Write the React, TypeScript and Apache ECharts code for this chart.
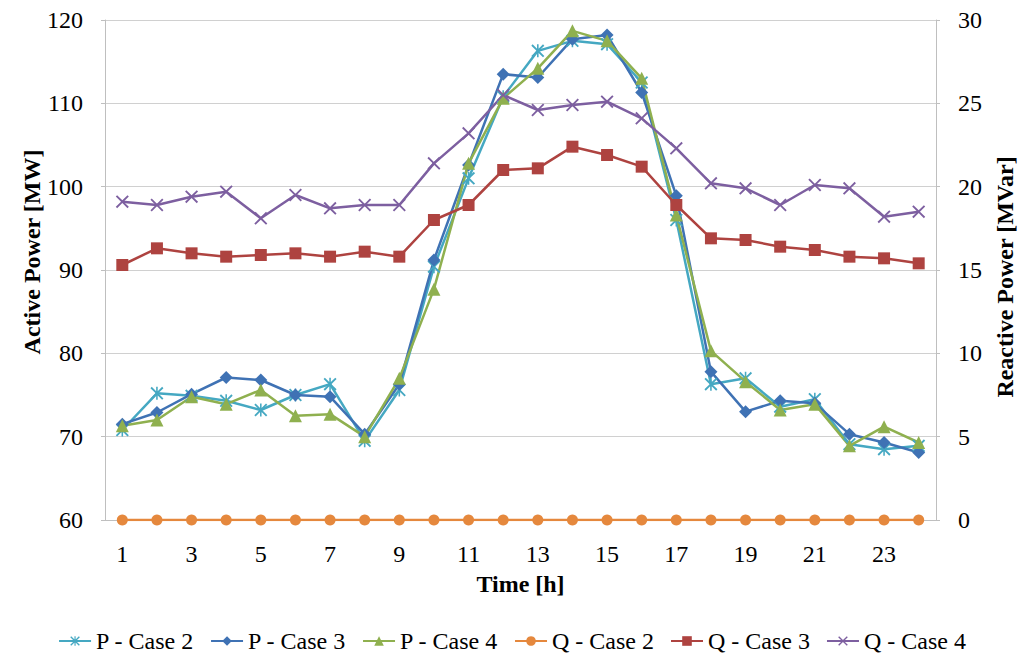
import React, { useEffect, useRef } from "react";
import * as echarts from "echarts";

const hours = ["1","2","3","4","5","6","7","8","9","10","11","12","13","14","15","16","17","18","19","20","21","22","23","24"];
const pCase2 = [70.8, 75.2, 74.9, 74.3, 73.2, 75.0, 76.3, 69.5, 75.6, 90.4, 101.0, 110.8, 116.3, 117.5, 117.1, 112.5, 96.0, 76.3, 77.0, 73.6, 74.5, 69.1, 68.5, 68.9];
const pCase3 = [71.5, 72.9, 75.1, 77.1, 76.8, 75.0, 74.8, 70.3, 76.3, 91.2, 102.6, 113.5, 113.1, 117.7, 118.2, 111.3, 98.9, 77.8, 73.0, 74.3, 74.0, 70.3, 69.3, 68.1];
const pCase4 = [71.3, 72.0, 74.8, 73.9, 75.6, 72.5, 72.7, 70.0, 77.0, 87.7, 102.8, 110.6, 114.2, 118.7, 117.5, 113.0, 96.6, 80.3, 76.6, 73.2, 73.9, 68.9, 71.2, 69.3];
const qCase2 = [0, 0, 0, 0, 0, 0, 0, 0, 0, 0, 0, 0, 0, 0, 0, 0, 0, 0, 0, 0, 0, 0, 0, 0];
const qCase3 = [15.3, 16.3, 16.0, 15.8, 15.9, 16.0, 15.8, 16.1, 15.8, 18.0, 18.9, 21.0, 21.1, 22.4, 21.9, 21.2, 18.9, 16.9, 16.8, 16.4, 16.2, 15.8, 15.7, 15.4];
const qCase4 = [19.1, 18.9, 19.4, 19.7, 18.1, 19.5, 18.7, 18.9, 18.9, 21.4, 23.2, 25.5, 24.6, 24.9, 25.1, 24.1, 22.3, 20.2, 19.9, 18.9, 20.1, 19.9, 18.2, 18.5];

const FONT = "Liberation Serif";
const X_SYMBOL = "path://M0,1 L1,0 L5,4 L9,0 L10,1 L6,5 L10,9 L9,10 L5,6 L1,10 L0,9 L4,5 Z";
const STAR_SYMBOL = "path://M0,1 L1,0 L5,4 L9,0 L10,1 L6,5 L10,9 L9,10 L5,6 L1,10 L0,9 L4,5 Z M4.4,0 L5.6,0 L5.6,10 L4.4,10 Z";

export default function App() {
  const ref = useRef<HTMLDivElement>(null);
  useEffect(() => {
    if (!ref.current) return;
    const chart = echarts.init(ref.current, null, { renderer: "svg" });
    const mk = (name: string, data: number[], color: string, symbol: string, size: number, yAxisIndex: number) => ({
      name,
      type: "line",
      data,
      yAxisIndex,
      symbol,
      symbolSize: size,
      showSymbol: true,
      lineStyle: { color, width: 2.5 },
      itemStyle: { color, borderColor: color, borderWidth: 0 },
    });
    chart.setOption({
      animation: false,
      backgroundColor: "#ffffff",
      textStyle: { fontFamily: FONT },
      grid: { left: 105, right: 88, top: 20, bottom: 138 },
      legend: {
        top: 624,
        left: "center",
        itemWidth: 32,
        itemHeight: 12,
        itemGap: 16,
        textStyle: { fontFamily: FONT, fontSize: 24, color: "#000" },
        data: ["P - Case 2", "P - Case 3", "P - Case 4", "Q - Case 2", "Q - Case 3", "Q - Case 4"],
      },
      xAxis: {
        type: "category",
        data: hours,
        boundaryGap: true,
        name: "Time [h]",
        nameLocation: "middle",
        nameGap: 52,
        nameTextStyle: { fontFamily: FONT, fontSize: 24, fontWeight: "bold", color: "#000" },
        axisLine: { lineStyle: { color: "#bfbfbf", width: 1 } },
        axisTick: { show: false },
        axisLabel: { interval: 1, margin: 22, fontFamily: FONT, fontSize: 24, color: "#000" },
      },
      yAxis: [
        {
          type: "value",
          min: 60,
          max: 120,
          interval: 10,
          position: "left",
          axisLine: { show: true, lineStyle: { color: "#bfbfbf" } },
          axisTick: { show: true, length: 4, lineStyle: { color: "#bfbfbf" } },
          splitLine: { show: true, lineStyle: { color: "#d0d0d0", width: 1.2 } },
          axisLabel: { margin: 22, fontFamily: FONT, fontSize: 24, color: "#000" },
        },
        {
          type: "value",
          min: 0,
          max: 30,
          interval: 5,
          position: "right",
          axisLine: { show: true, lineStyle: { color: "#bfbfbf" } },
          axisTick: { show: true, length: 4, lineStyle: { color: "#bfbfbf" } },
          splitLine: { show: false },
          axisLabel: { margin: 22, fontFamily: FONT, fontSize: 24, color: "#000" },
        },
      ],
      graphic: [
        {
          type: "text",
          x: 32,
          y: 252,
          rotation: Math.PI / 2,
          style: {
            text: "Active Power [MW]",
            fontFamily: FONT,
            fontSize: 24,
            fontWeight: "bold",
            fill: "#000",
            align: "center",
            verticalAlign: "middle",
          },
        },
        {
          type: "text",
          x: 1005,
          y: 277,
          rotation: Math.PI / 2,
          style: {
            text: "Reactive Power [MVar]",
            fontFamily: FONT,
            fontSize: 24,
            fontWeight: "bold",
            fill: "#000",
            align: "center",
            verticalAlign: "middle",
          },
        },
      ],
      series: [
        mk("P - Case 2", pCase2, "#45a8c2", STAR_SYMBOL, 13, 0),
        mk("P - Case 3", pCase3, "#3f72b4", "diamond", 13, 0),
        mk("P - Case 4", pCase4, "#8fb04f", "triangle", 13, 0),
        mk("Q - Case 2", qCase2, "#e5883d", "circle", 11, 1),
        mk("Q - Case 3", qCase3, "#ae4340", "rect", 12, 1),
        mk("Q - Case 4", qCase4, "#7d5fa0", X_SYMBOL, 13, 1),
      ],
    });
    return () => chart.dispose();
  }, []);
  return (
    <div
      ref={ref}
      style={{ position: "fixed", left: 0, top: 0, width: 1024, height: 658, background: "#fff" }}
    />
  );
}
